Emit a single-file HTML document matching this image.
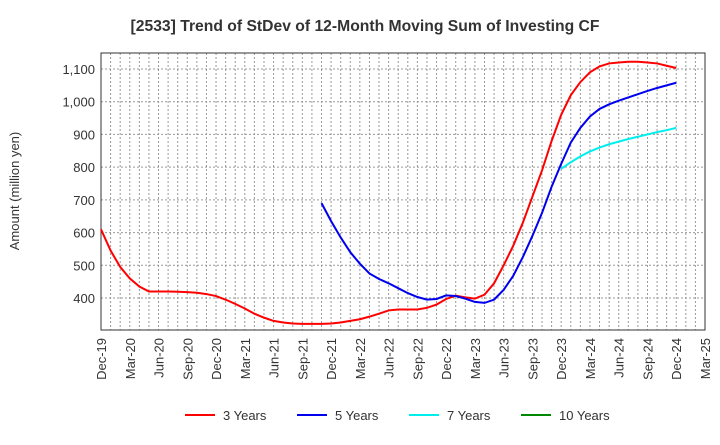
<!DOCTYPE html>
<html><head><meta charset="utf-8"><style>
body{margin:0;background:#fff;font-family:"Liberation Sans",sans-serif;}
</style></head><body>
<svg id="c" width="720" height="440" xmlns="http://www.w3.org/2000/svg">
<text x="365" y="31" text-anchor="middle" font-size="15.7" font-weight="bold" fill="#333">[2533]  Trend of StDev of 12-Month Moving Sum of Investing CF</text>
<text transform="translate(19,191) rotate(-90)" text-anchor="middle" font-size="13" fill="#333">Amount (million yen)</text>
<g id="grid"></g><g id="axes"></g><g id="series"></g><g id="legend"></g>
</svg>
<script>
const xLabels=["Dec-19","Mar-20","Jun-20","Sep-20","Dec-20","Mar-21","Jun-21","Sep-21","Dec-21","Mar-22","Jun-22","Sep-22","Dec-22","Mar-23","Jun-23","Sep-23","Dec-23","Mar-24","Jun-24","Sep-24","Dec-24","Mar-25"];
const yTicks=[400,500,600,700,800,900,1000,1100];
const s3=[610,545,495,460,435,420,420,420,419,418,416,412,406,395,382,368,352,340,330,325,322,321,321,321,322,325,330,335,343,352,362,365,365,365,370,380,397,407,402,398,410,445,500,560,630,710,790,880,960,1020,1060,1090,1108,1117,1120,1122,1122,1120,1117,1110,1103];
const s5Start=23;
const s5=[690,635,585,540,505,475,458,445,430,415,403,395,397,408,406,398,388,385,395,425,468,525,590,660,740,810,875,920,955,978,992,1003,1013,1023,1033,1042,1050,1058];
const s7Start=48;
const s7=[795,815,833,848,860,870,878,886,893,900,907,913,920];
const seriesNames=["3 Years","5 Years","7 Years","10 Years"];
const seriesColors=["#ff0000","#0000ee","#00eeee","#008800"];
const L=101,R=705,T=53,B=330,NM=63;
const X=i=>L+i*(R-L)/NM;
const Y=v=>298-(v-400)*(229/700);
const NS="http://www.w3.org/2000/svg";
function mk(p,tag,at){const e=document.createElementNS(NS,tag);for(const k in at)e.setAttribute(k,at[k]);p.appendChild(e);return e;}
const grid=document.getElementById('grid'),axes=document.getElementById('axes'),ser=document.getElementById('series'),leg=document.getElementById('legend');
for(let i=1;i<=NM;i++){const l=mk(grid,'line',{x1:X(i),x2:X(i),y1:T,y2:B,stroke:'#999','stroke-dasharray':'2,2','stroke-width':1});

}
yTicks.forEach(v=>{const l=mk(grid,'line',{x1:L,x2:R,y1:Y(v),y2:Y(v),stroke:'#999','stroke-dasharray':'2,2'});


const t=mk(axes,'text',{x:L-6,y:Y(v)+5,'text-anchor':'end','font-size':13,fill:'#333'});t.textContent=v.toLocaleString('en-US');

});
const fr=mk(axes,'rect',{x:L,y:T,width:R-L,height:B-T,fill:'none',stroke:'#333'});


xLabels.forEach((s,i)=>{const x=X(i*3);const t=mk(axes,'text',{transform:`translate(${x+5},${B+8}) rotate(-90)`,'text-anchor':'end','font-size':13,fill:'#333'});t.textContent=s;

});
function line(data,start,color,name){const p=mk(ser,'polyline',{points:data.map((v,i)=>X(start+i)+','+Y(v)).join(' '),fill:'none',stroke:color,'stroke-width':2});

}
line(s3,0,seriesColors[0],'line-3-years');
line(s5,s5Start,seriesColors[1],'line-5-years');
line(s7,s7Start,seriesColors[2],'line-7-years');
const lx=[185,297,409,521];
seriesNames.forEach((n,i)=>{const g=mk(leg,'g',{});


mk(g,'line',{x1:lx[i],x2:lx[i]+30,y1:415,y2:415,stroke:seriesColors[i],'stroke-width':2});
const t=mk(g,'text',{x:lx[i]+38,y:420,'font-size':13,fill:'#333'});t.textContent=n;});
</script>
</body></html>
